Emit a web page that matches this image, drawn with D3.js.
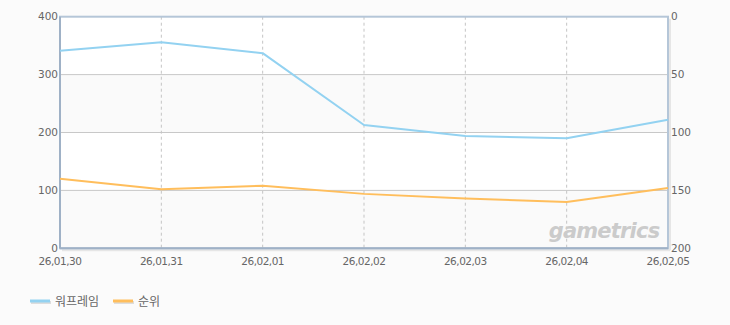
<!DOCTYPE html>
<html><head><meta charset="utf-8">
<script src="https://cdn.jsdelivr.net/npm/d3@7"></script>
<style>
body{margin:0;background:#fbfbfb;}
svg{display:block;}
text{font-family:"DejaVu Sans","Noto Sans CJK KR",sans-serif;}
</style></head>
<body><svg id="c" width="730" height="325"></svg>
<script>
const categories = ["26,01,30","26,01,31","26,02,01","26,02,02","26,02,03","26,02,04","26,02,05"];
const warframe = [341, 356, 337, 213, 194, 190, 222];
const rank = [140, 149, 146, 153, 157, 160, 148];
const leftTicks = [0, 100, 200, 300, 400];
const rightTicks = [0, 50, 100, 150, 200];
const seriesNames = ["워프레임", "순위"];
const seriesColors = ["#93d2f1", "#ffbe5c"];

const svg = d3.select("#c");
const L = 60, R = 668, T = 16.7, B = 248.3;
const x = d3.scalePoint().domain(categories).range([L, R]);
const yL = d3.scaleLinear().domain([0, 400]).range([B, T]);
const yR = d3.scaleLinear().domain([0, 200]).range([T, B]);

svg.append("rect").attr("width",730).attr("height",325).attr("fill","#fbfbfb");
// bands
for (let i = 0; i < leftTicks.length - 1; i++) {
  const a = leftTicks[i], b = leftTicks[i+1];
  svg.append("rect").attr("x", L).attr("width", R - L)
    .attr("y", yL(b)).attr("height", yL(a) - yL(b))
    .attr("fill", i % 2 === 0 ? "#fafafa" : "#ffffff");
}
// horizontal grid
svg.append("g").selectAll("line").data(leftTicks.slice(1, -1)).join("line")
  .attr("x1", L).attr("x2", R).attr("y1", d => yL(d)).attr("y2", d => yL(d))
  .attr("stroke", "#c8c8c8").attr("stroke-width", 1);
// vertical dashed grid
svg.append("g").selectAll("line").data(categories.slice(1, -1)).join("line")
  .attr("x1", d => x(d)).attr("x2", d => x(d)).attr("y1", T).attr("y2", B)
  .attr("stroke", "#c4c4c4").attr("stroke-width", 1).attr("stroke-dasharray", "3,3");

// watermark
svg.append("text").attr("x", 604).attr("y", 238).attr("text-anchor", "middle")
  .attr("font-size", 21).attr("font-weight", "bold").attr("font-style", "italic")
  .attr("fill", "#cbcbcb").attr("letter-spacing", "-0.8")
  .style("font-family", "'DejaVu Sans', sans-serif").text("gametrics");

// frame shadow
svg.append("line").attr("x1", L + 2).attr("x2", R + 2).attr("y1", B + 2).attr("y2", B + 2).attr("stroke", "#e6e6e6").attr("stroke-width", 2);
svg.append("line").attr("x1", R + 2).attr("x2", R + 2).attr("y1", T + 2).attr("y2", B + 2).attr("stroke", "#e6e6e6").attr("stroke-width", 2);
// frame
svg.append("rect").attr("x", L).attr("y", T).attr("width", R - L).attr("height", B - T)
  .attr("fill", "none").attr("stroke", "#b5c6d8").attr("stroke-width", 2);
svg.append("line").attr("x1", L).attr("x2", L).attr("y1", T).attr("y2", B).attr("stroke", "#9fb1c6").attr("stroke-width", 2);
svg.append("line").attr("x1", L).attr("x2", R).attr("y1", B).attr("y2", B).attr("stroke", "#9fb1c6").attr("stroke-width", 2);

// lines
const lineL = d3.line().x((d, i) => x(categories[i])).y(d => yL(d));
const lineR = d3.line().x((d, i) => x(categories[i])).y(d => yR(d));
svg.append("path").datum(warframe).attr("d", lineL).attr("fill", "none")
  .attr("stroke", seriesColors[0]).attr("stroke-width", 2).attr("stroke-linejoin", "round");
svg.append("path").datum(rank).attr("d", lineR).attr("fill", "none")
  .attr("stroke", seriesColors[1]).attr("stroke-width", 2).attr("stroke-linejoin", "round");

// axes labels
const lblColor = "#666";
svg.append("g").selectAll("text").data(leftTicks).join("text")
  .attr("x", 58).attr("y", d => yL(d) + 3.5).attr("text-anchor", "end")
  .attr("font-size", 10.5).attr("fill", lblColor).text(d => d);
svg.append("g").selectAll("text").data(rightTicks).join("text")
  .attr("x", 671).attr("y", d => yR(d) + 3.5).attr("text-anchor", "start")
  .attr("font-size", 10.5).attr("fill", lblColor).text(d => d);
svg.append("g").selectAll("text").data(categories).join("text")
  .attr("x", d => x(d)).attr("y", 264.5).attr("text-anchor", "middle")
  .attr("font-size", 10.5).attr("letter-spacing", "-0.5").attr("fill", lblColor).text(d => d);

// legend
const leg = [{x: 30, tx: 55}, {x: 113, tx: 138}];
leg.forEach((p, i) => {
  svg.append("line").attr("x1", p.x + 1).attr("x2", p.x + 21).attr("y1", 302.5).attr("y2", 302.5)
    .attr("stroke", "#dddddd").attr("stroke-width", 3);
  svg.append("line").attr("x1", p.x).attr("x2", p.x + 20).attr("y1", 301).attr("y2", 301)
    .attr("stroke", seriesColors[i]).attr("stroke-width", 3);
  svg.append("text").attr("x", p.tx).attr("y", 305.5).attr("font-size", 12)
    .attr("fill", lblColor).style("font-family", "'Noto Sans CJK KR', sans-serif").text(seriesNames[i]);
});
</script></body></html>
